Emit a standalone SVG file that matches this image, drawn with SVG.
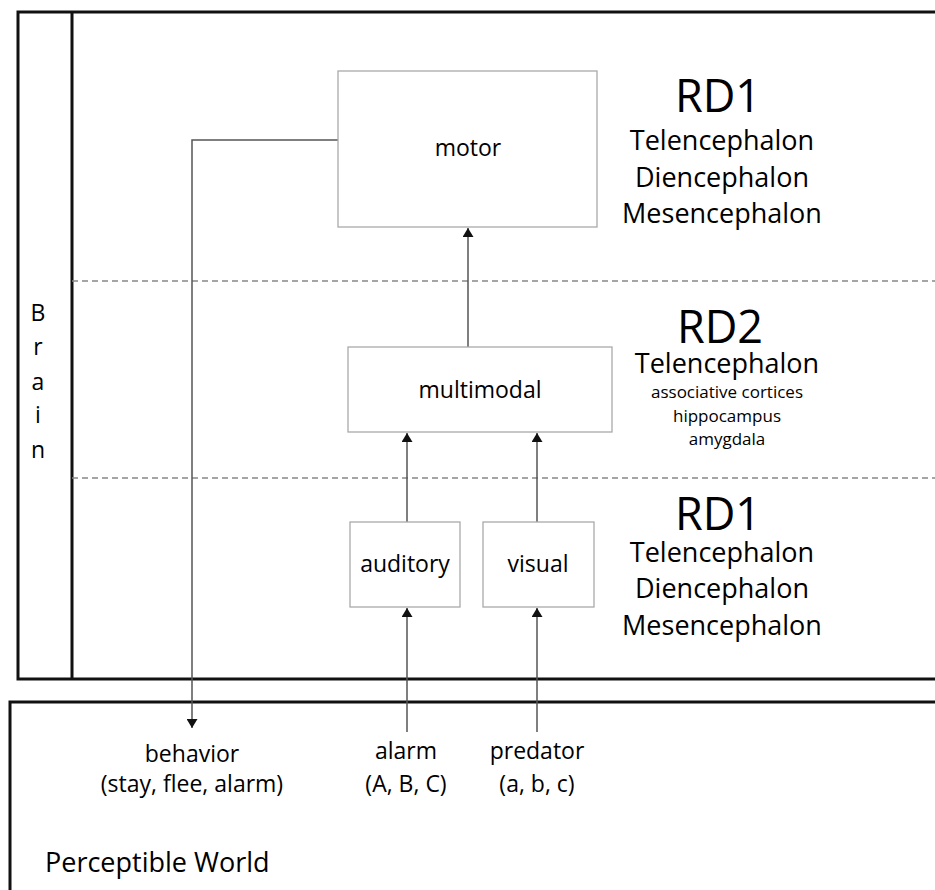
<svg xmlns="http://www.w3.org/2000/svg" width="935" height="890" viewBox="0 0 935 890">
  <style>
    text { font-family: "Open Sans", "Liberation Sans", sans-serif; fill: #000; text-anchor: middle; }
    .frame { fill: none; stroke: #111; stroke-width: 3; }
    .node { fill: #fff; stroke: #aaa; stroke-width: 1.3; }
    .dash { fill: none; stroke: #888; stroke-width: 1.5; stroke-dasharray: 6 4; }
    .conn { fill: none; stroke: #555; stroke-width: 1.5; }
    .lbl { font-size: 23px; }
    .rd { font-size: 45px; }
    .reg { font-size: 27px; }
    .sub { font-size: 17px; }
  </style>
  <defs>
    <marker id="arrow" markerUnits="userSpaceOnUse" markerWidth="9" markerHeight="11" refX="9" refY="5.5" orient="auto">
      <path d="M0,0 L9,5.5 L0,11 z" fill="#111"/>
    </marker>
  </defs>

  <g id="brain-frame">
    <rect class="frame" x="18" y="12" width="940" height="667"/>
    <line class="frame" x1="72" y1="12" x2="72" y2="679"/>
    <text class="lbl" x="38" y="321">B</text>
    <text class="lbl" x="38" y="355">r</text>
    <text class="lbl" x="38" y="390">a</text>
    <text class="lbl" x="38" y="423">i</text>
    <text class="lbl" x="38" y="458">n</text>
  </g>

  <g id="world-frame">
    <rect class="frame" x="10" y="702" width="940" height="200"/>
    <text x="45" y="872" style="text-anchor:start;font-size:27px">Perceptible World</text>
  </g>

  <g id="dividers">
    <line class="dash" x1="72" y1="281" x2="935" y2="281"/>
    <line class="dash" x1="72" y1="478" x2="935" y2="478"/>
  </g>

  <g id="connectors">
    <path class="conn" d="M338,140 H192 V728" marker-end="url(#arrow)"/>
    <path class="conn" d="M468,347 V228" marker-end="url(#arrow)"/>
    <path class="conn" d="M407,522 V433" marker-end="url(#arrow)"/>
    <path class="conn" d="M537,522 V433" marker-end="url(#arrow)"/>
    <path class="conn" d="M407,732 V608" marker-end="url(#arrow)"/>
    <path class="conn" d="M537,732 V608" marker-end="url(#arrow)"/>
  </g>

  <g id="motor">
    <rect class="node" x="338" y="71" width="259" height="156"/>
    <text class="lbl" x="468" y="156">motor</text>
  </g>
  <g id="multimodal">
    <rect class="node" x="348" y="347" width="264" height="85"/>
    <text class="lbl" x="480" y="398">multimodal</text>
  </g>
  <g id="auditory">
    <rect class="node" x="350" y="522" width="110" height="85"/>
    <text class="lbl" x="405" y="572">auditory</text>
  </g>
  <g id="visual">
    <rect class="node" x="483" y="522" width="111" height="85"/>
    <text class="lbl" x="538" y="572">visual</text>
  </g>

  <g id="rd1-top">
    <text class="rd" x="718" y="112">RD1</text>
    <text class="reg" x="722" y="150">Telencephalon</text>
    <text class="reg" x="722" y="187">Diencephalon</text>
    <text class="reg" x="722" y="223">Mesencephalon</text>
  </g>
  <g id="rd2">
    <text class="rd" x="720" y="343">RD2</text>
    <text class="reg" x="727" y="373">Telencephalon</text>
    <text class="sub" x="727" y="398">associative cortices</text>
    <text class="sub" x="727" y="422">hippocampus</text>
    <text class="sub" x="727" y="445">amygdala</text>
  </g>
  <g id="rd1-bottom">
    <text class="rd" x="718" y="530">RD1</text>
    <text class="reg" x="722" y="562">Telencephalon</text>
    <text class="reg" x="722" y="598">Diencephalon</text>
    <text class="reg" x="722" y="635">Mesencephalon</text>
  </g>

  <g id="behavior">
    <text class="lbl" x="192" y="762">behavior</text>
    <text class="lbl" x="192" y="792">(stay, flee, alarm)</text>
  </g>
  <g id="alarm">
    <text class="lbl" x="406" y="759">alarm</text>
    <text class="lbl" x="406" y="792">(A, B, C)</text>
  </g>
  <g id="predator">
    <text class="lbl" x="537" y="759">predator</text>
    <text class="lbl" x="537" y="792">(a, b, c)</text>
  </g>
</svg>
